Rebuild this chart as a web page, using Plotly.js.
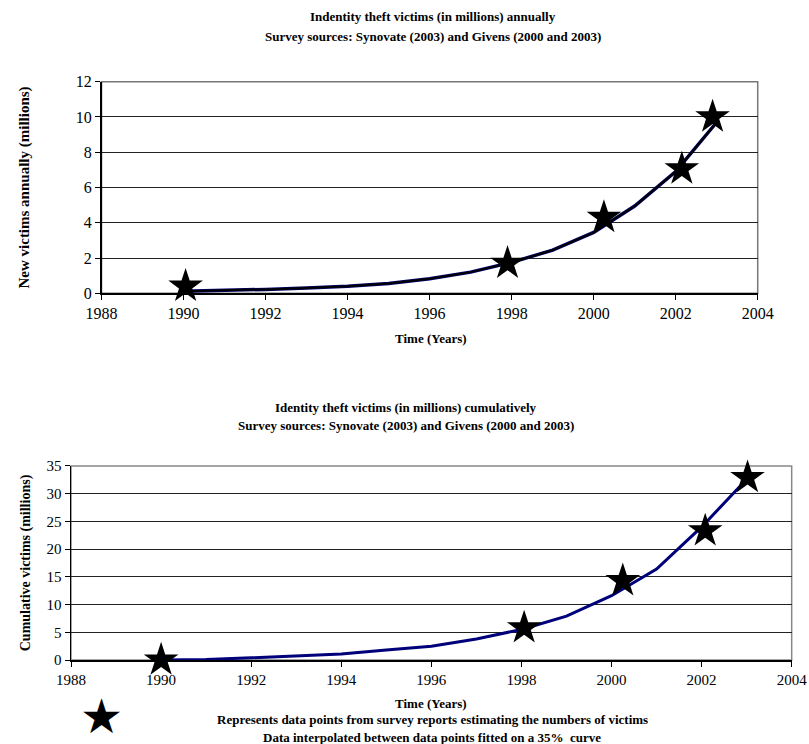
<!DOCTYPE html>
<html><head><meta charset="utf-8">
<script src="https://cdn.plot.ly/plotly-3.0.1.min.js"></script>
<style>html,body{margin:0;padding:0;background:#fff}#c{width:809px;height:744px}</style>
</head><body><div id="c"></div>
<script>
// Annual (top chart) fitted curve
const yearsLine = [1990,1991,1992,1993,1994,1995,1996,1997,1998,1999,2000,2001,2002,2003];
const annualLine = [0.12,0.16,0.22,0.3,0.4,0.56,0.82,1.2,1.75,2.45,3.45,4.95,6.9,9.7];
// Annual survey points (stars)
const annualStarYears = [1990.05,1997.9,2000.25,2002.15,2002.9];
const annualStarVals = [0.4,1.7,4.3,7.05,10.0];
// Cumulative (bottom chart) fitted curve
const cumLine = [0,0.1,0.4,0.7,1.1,1.8,2.5,3.8,5.5,7.9,11.6,16.4,24.0,32.6];
// Cumulative survey points (stars)
const cumStarYears = [1990,1998.06,2000.25,2002.08,2003.02];
const cumStarVals = [0,5.8,14.3,23.3,32.9];
const xTicks = [1988,1990,1992,1994,1996,1998,2000,2002,2004];

const serif = "Liberation Serif, Times New Roman, serif";
const tickFontTop = {family: serif, size: 16, color: '#000'};
const tickFontBot = {family: serif, size: 15, color: '#000'};
const titleFont = {family: serif, size: 13, color: '#000', weight: 'bold'};

const traces = [
  {x: yearsLine, y: annualLine, xaxis:'x', yaxis:'y', mode:'lines', line:{color:'#00006a', width:3.5}, hoverinfo:'skip'},
  {x: yearsLine, y: annualLine, xaxis:'x', yaxis:'y', mode:'lines', line:{color:'#000', width:2}, hoverinfo:'skip'},
  {x: annualStarYears, y: annualStarVals, xaxis:'x', yaxis:'y', mode:'markers', marker:{symbol:'star', size:26, color:'#000', line:{width:0}}, cliponaxis:false},
  {x: yearsLine, y: cumLine, xaxis:'x2', yaxis:'y2', mode:'lines', line:{color:'#00007a', width:3}, hoverinfo:'skip'},
  {x: cumStarYears, y: cumStarVals, xaxis:'x2', yaxis:'y2', mode:'markers', marker:{symbol:'star', size:26, color:'#000', line:{width:0}}, cliponaxis:false}
];

function xa(domain, anchor, tf){
  return {domain: domain, anchor: anchor, range:[1988,2004], tickvals: xTicks, ticktext: xTicks.map(String),
    ticks:'outside', ticklen:5, tickcolor:'#000', showline:true, linecolor:'#000', linewidth:1.5,
    showgrid:false, zeroline:false, tickfont: tf, fixedrange:true};
}
function ya(domain, anchor, max, dt, title, tsize, standoff, tf){
  return {domain: domain, anchor: anchor, range:[0,max], dtick: dt, tick0:0,
    ticks:'outside', ticklen:5, tickcolor:'#000', showline:true, linecolor:'#000', linewidth:1.5,
    showgrid:true, gridcolor:'#222', gridwidth:1, zeroline:false, tickfont: tf, fixedrange:true,
    title:{text: title, font:{family: serif, size: tsize, color:'#000', weight:'bold'}, standoff: standoff}};
}

const layout = {
  width: 809, height: 744, margin:{l:0,r:0,t:0,b:0},
  paper_bgcolor:'#fff', plot_bgcolor:'#fff', showlegend:false,
  xaxis: xa([0.1255,0.9366],'y',tickFontTop),
  yaxis: ya([0.6058,0.8902],'x',12,2,'New victims annually (millions)',15,42,tickFontTop),
  xaxis2: xa([0.0878,0.9786],'y2',tickFontBot),
  yaxis2: ya([0.1129,0.3737],'x2',35,5,'Cumulative victims (millions)',14,12,tickFontBot),
  shapes: [
    {type:'rect', xref:'paper', yref:'paper', x0:0.1255, x1:0.9366, y0:0.6058, y1:0.8902, line:{color:'#777', width:1.5}, layer:'below'},
    {type:'rect', xref:'paper', yref:'paper', x0:0.0878, x1:0.9786, y0:0.1129, y1:0.3737, line:{color:'#888', width:1.5}, layer:'below'}
  ],
  annotations: [
    {xref:'paper', yref:'paper', x:0.535, y:1-17/744, text:'Indentity theft victims (in millions) annually', showarrow:false, font:titleFont, xanchor:'center', yanchor:'middle'},
    {xref:'paper', yref:'paper', x:0.535, y:1-37/744, text:'Survey sources: Synovate (2003) and Givens (2000 and 2003)', showarrow:false, font:titleFont, xanchor:'center', yanchor:'middle'},
    {xref:'paper', yref:'paper', x:0.533, y:1-339/744, text:'Time (Years)', showarrow:false, font:titleFont, xanchor:'center', yanchor:'middle'},
    {xref:'paper', yref:'paper', x:0.502, y:1-408/744, text:'Identity theft victims (in millions) cumulatively', showarrow:false, font:titleFont, xanchor:'center', yanchor:'middle'},
    {xref:'paper', yref:'paper', x:0.502, y:1-425/744, text:'Survey sources: Synovate (2003) and Givens (2000 and 2003)', showarrow:false, font:titleFont, xanchor:'center', yanchor:'middle'},
    {xref:'paper', yref:'paper', x:0.533, y:1-703/744, text:'Time (Years)', showarrow:false, font:titleFont, xanchor:'center', yanchor:'middle'},
    {xref:'paper', yref:'paper', x:102/809, y:1-716/744, text:'★', showarrow:false, font:{family:'DejaVu Sans', size:48, color:'#000'}, xanchor:'center', yanchor:'middle'},
    {xref:'paper', yref:'paper', x:432/809, y:1-719/744, text:'Represents data points from survey reports estimating the numbers of victims', showarrow:false, font:titleFont, xanchor:'center', yanchor:'middle'},
    {xref:'paper', yref:'paper', x:432/809, y:1-737/744, text:'Data interpolated between data points fitted on a 35%  curve', showarrow:false, font:titleFont, xanchor:'center', yanchor:'middle'}
  ]
};
Plotly.newPlot('c', traces, layout, {staticPlot:true, displayModeBar:false});
</script></body></html>
